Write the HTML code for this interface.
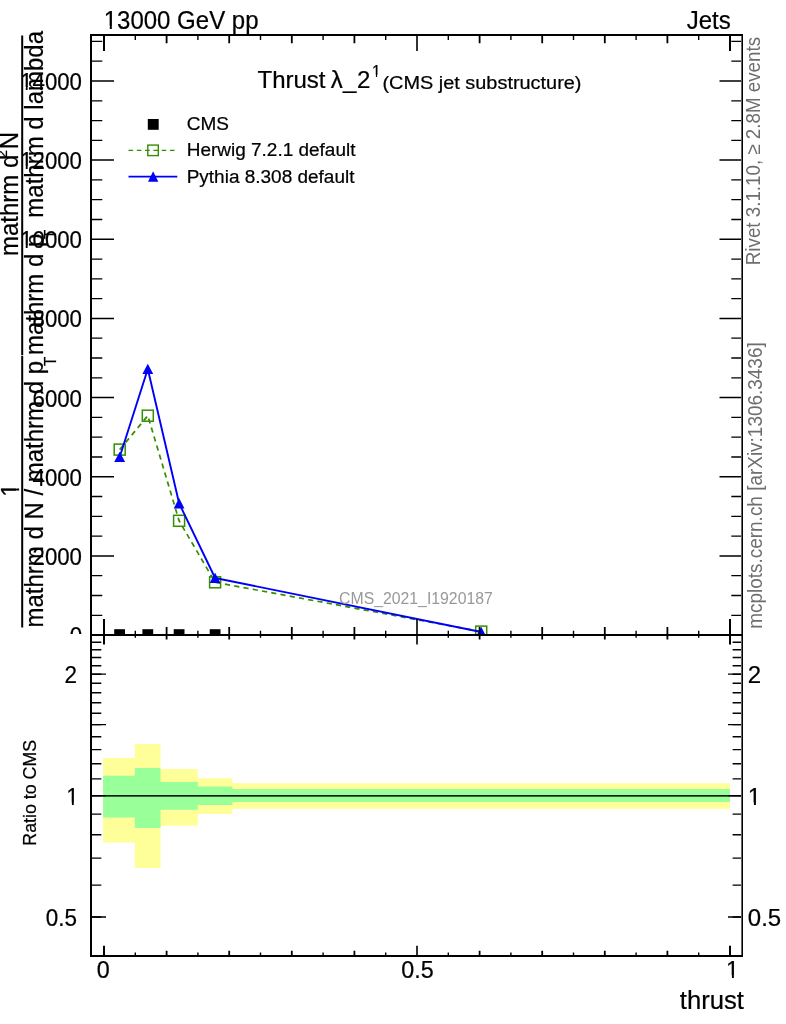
<!DOCTYPE html>
<html lang="en"><head><meta charset="utf-8"><title>Thrust plot</title>
<style>html,body{margin:0;padding:0;background:#fff}body{width:786px;height:1024px;overflow:hidden}svg{display:block}text{stroke:#000;stroke-width:.22px}text.ns{stroke:none}</style>
</head><body>
<svg width="786" height="1024" viewBox="0 0 786 1024" font-family='"Liberation Sans", sans-serif'>
<rect x="0" y="0" width="786" height="1024" fill="#ffffff"/>
<g fill="#000" font-size="25.2px">
<clipPath id="nf1"><path d="M-2000 -2000H2000V2000H-2000Z M-6.09 -2.88H-0.62V3H-6.09Z M1.51 -2.88H6.78V3H1.51Z" clip-rule="evenodd"/></clipPath>
<text transform="translate(18.9 490) rotate(-90) scale(0.9524 1)" text-anchor="middle" clip-path="url(#nf1)">1</text>
<text transform="translate(43.3 627.5) rotate(-90) scale(0.9524 1)">mathrm d N / mathrm d p<tspan font-size="16px" dy="12.8" dx="-5.46">T</tspan></text>
<rect x="21.2" y="355.7" width="2" height="271.8"/>
<text transform="translate(17.9 256) rotate(-90) scale(0.9524 1)">mathrm d<tspan font-size="15px" dy="-10.8" dx="-3.36">2</tspan><tspan dy="10.8" dx="0.73">N</tspan></text>
<text transform="translate(43.3 355) rotate(-90) scale(0.9524 1)">mathrm d p<tspan font-size="16px" dy="12.8" dx="-5.46">T</tspan><tspan dy="-12.8" dx="5.56"> mathrm d lambda</tspan></text>
<rect x="21.2" y="35.5" width="2" height="319.5"/>
</g>
<g fill="#000" font-size="24.4px" text-anchor="end">
<clipPath id="nf2"><path d="M-2000 -2000H2000V2000H-2000Z M-66.99 -2.82H-61.66V3H-66.99Z M-59.61 -2.82H-54.47V3H-59.61Z" clip-rule="evenodd"/></clipPath>
<text transform="translate(82 564.8) scale(0.912 1)" >2000</text>
<text transform="translate(82 485.6) scale(0.912 1)" >4000</text>
<text transform="translate(82 406.5) scale(0.912 1)" >6000</text>
<text transform="translate(82 327.3) scale(0.912 1)" >8000</text>
<text transform="translate(82 248.2) scale(0.912 1)" clip-path="url(#nf2)">10000</text>
<text transform="translate(82 169.0) scale(0.912 1)" clip-path="url(#nf2)">12000</text>
<text transform="translate(82 89.9) scale(0.912 1)" clip-path="url(#nf2)">14000</text>
</g>
<clipPath id="c0"><rect x="0" y="0" width="786" height="634"/></clipPath>
<g clip-path="url(#c0)"><text transform="translate(82 643.9) scale(0.912 1)" font-size="24.4px" text-anchor="end">0</text></g>
<clipPath id="cu"><rect x="92" y="36" width="649" height="598"/></clipPath>
<g clip-path="url(#cu)">
<polyline points="119.7,449.6 147.8,415.7 179.1,520.8 215.1,582.3 481.2,631.6" fill="none" stroke="#338f00" stroke-width="1.7" stroke-dasharray="5.2 4.2"/>
<rect x="114.2" y="444.1" width="11" height="11" fill="none" stroke="#338f00" stroke-width="1.5"/>
<rect x="142.3" y="410.2" width="11" height="11" fill="none" stroke="#338f00" stroke-width="1.5"/>
<rect x="173.6" y="515.3" width="11" height="11" fill="none" stroke="#338f00" stroke-width="1.5"/>
<rect x="209.6" y="576.8" width="11" height="11" fill="none" stroke="#338f00" stroke-width="1.5"/>
<rect x="475.7" y="626.1" width="11" height="11" fill="none" stroke="#338f00" stroke-width="1.5"/>
<polyline points="119.7,457.0 147.8,369.0 179.1,503.3 215.1,578.0 481.2,632.0" fill="none" stroke="#0000f8" stroke-width="1.9" stroke-linejoin="round"/>
<polygon points="114.2,462.1 125.1,462.1 119.7,451.8" fill="#0000f8"/>
<polygon points="142.4,374.1 153.2,374.1 147.8,363.8" fill="#0000f8"/>
<polygon points="173.7,508.4 184.5,508.4 179.1,498.1" fill="#0000f8"/>
<polygon points="209.7,583.1 220.5,583.1 215.1,572.8" fill="#0000f8"/>
<polygon points="475.8,637.1 486.6,637.1 481.2,626.8" fill="#0000f8"/>
<rect x="114.2" y="629.2" width="10.8" height="6" fill="#000"/>
<rect x="142.4" y="629.2" width="10.8" height="6" fill="#000"/>
<rect x="173.7" y="629.2" width="10.8" height="6" fill="#000"/>
<rect x="209.7" y="629.2" width="10.8" height="6" fill="#000"/>
</g>
<path d="M103.1 758.1H134.8V743.9H160.5V769.1H197.8V778.2H232.4V783.2H730.1V808.7H232.4V814.1H197.8V825.7H160.5V868.0H134.8V842.4H103.1Z" fill="#ffff99"/>
<path d="M103.1 775.8H134.8V767.9H160.5V782.1H197.8V786.4H232.4V789.1H730.1V801.9H232.4V804.9H197.8V809.8H160.5V828.1H134.8V817.5H103.1Z" fill="#99ff99"/>
<rect x="92" y="795.1" width="649" height="1.5" fill="#000"/>
<g stroke="#000" fill="none">
<path d="M92 615.3H102.3 M741 615.3H731.3" stroke-width="1.3"/>
<path d="M92 595.5H102.3 M741 595.5H731.3" stroke-width="1.3"/>
<path d="M92 575.7H102.3 M741 575.7H731.3" stroke-width="1.3"/>
<path d="M92 555.9H114 M741 555.9H719.5" stroke-width="1.5"/>
<path d="M92 536.1H102.3 M741 536.1H731.3" stroke-width="1.3"/>
<path d="M92 516.3H102.3 M741 516.3H731.3" stroke-width="1.3"/>
<path d="M92 496.5H102.3 M741 496.5H731.3" stroke-width="1.3"/>
<path d="M92 476.8H114 M741 476.8H719.5" stroke-width="1.5"/>
<path d="M92 457.0H102.3 M741 457.0H731.3" stroke-width="1.3"/>
<path d="M92 437.2H102.3 M741 437.2H731.3" stroke-width="1.3"/>
<path d="M92 417.4H102.3 M741 417.4H731.3" stroke-width="1.3"/>
<path d="M92 397.6H114 M741 397.6H719.5" stroke-width="1.5"/>
<path d="M92 377.8H102.3 M741 377.8H731.3" stroke-width="1.3"/>
<path d="M92 358.0H102.3 M741 358.0H731.3" stroke-width="1.3"/>
<path d="M92 338.2H102.3 M741 338.2H731.3" stroke-width="1.3"/>
<path d="M92 318.4H114 M741 318.4H719.5" stroke-width="1.5"/>
<path d="M92 298.7H102.3 M741 298.7H731.3" stroke-width="1.3"/>
<path d="M92 278.9H102.3 M741 278.9H731.3" stroke-width="1.3"/>
<path d="M92 259.1H102.3 M741 259.1H731.3" stroke-width="1.3"/>
<path d="M92 239.3H114 M741 239.3H719.5" stroke-width="1.5"/>
<path d="M92 219.5H102.3 M741 219.5H731.3" stroke-width="1.3"/>
<path d="M92 199.7H102.3 M741 199.7H731.3" stroke-width="1.3"/>
<path d="M92 179.9H102.3 M741 179.9H731.3" stroke-width="1.3"/>
<path d="M92 160.1H114 M741 160.1H719.5" stroke-width="1.5"/>
<path d="M92 140.4H102.3 M741 140.4H731.3" stroke-width="1.3"/>
<path d="M92 120.6H102.3 M741 120.6H731.3" stroke-width="1.3"/>
<path d="M92 100.8H102.3 M741 100.8H731.3" stroke-width="1.3"/>
<path d="M92 81.0H114 M741 81.0H719.5" stroke-width="1.5"/>
<path d="M92 61.2H102.3 M741 61.2H731.3" stroke-width="1.3"/>
<path d="M92 41.4H102.3 M741 41.4H731.3" stroke-width="1.3"/>
<path d="M104.0 36V51 M104.0 619V644.6 M104.0 945.6999999999999V955" stroke-width="2.0"/>
<path d="M135.3 36V40 M135.3 630.7V637.8 M135.3 952.5V955" stroke-width="1.4"/>
<path d="M166.6 36V43.3 M166.6 627V639.6 M166.6 950.6999999999999V955" stroke-width="1.8"/>
<path d="M197.9 36V40 M197.9 630.7V637.8 M197.9 952.5V955" stroke-width="1.4"/>
<path d="M229.2 36V43.3 M229.2 627V639.6 M229.2 950.6999999999999V955" stroke-width="1.8"/>
<path d="M260.5 36V40 M260.5 630.7V637.8 M260.5 952.5V955" stroke-width="1.4"/>
<path d="M291.8 36V43.3 M291.8 627V639.6 M291.8 950.6999999999999V955" stroke-width="1.8"/>
<path d="M323.1 36V40 M323.1 630.7V637.8 M323.1 952.5V955" stroke-width="1.4"/>
<path d="M354.4 36V43.3 M354.4 627V639.6 M354.4 950.6999999999999V955" stroke-width="1.8"/>
<path d="M385.7 36V40 M385.7 630.7V637.8 M385.7 952.5V955" stroke-width="1.4"/>
<path d="M417.0 36V51 M417.0 619V644.6 M417.0 945.6999999999999V955" stroke-width="1.6"/>
<path d="M448.3 36V40 M448.3 630.7V637.8 M448.3 952.5V955" stroke-width="1.4"/>
<path d="M479.6 36V43.3 M479.6 627V639.6 M479.6 950.6999999999999V955" stroke-width="1.8"/>
<path d="M510.9 36V40 M510.9 630.7V637.8 M510.9 952.5V955" stroke-width="1.4"/>
<path d="M542.2 36V43.3 M542.2 627V639.6 M542.2 950.6999999999999V955" stroke-width="1.8"/>
<path d="M573.5 36V40 M573.5 630.7V637.8 M573.5 952.5V955" stroke-width="1.4"/>
<path d="M604.8 36V43.3 M604.8 627V639.6 M604.8 950.6999999999999V955" stroke-width="1.8"/>
<path d="M636.1 36V40 M636.1 630.7V637.8 M636.1 952.5V955" stroke-width="1.4"/>
<path d="M667.4 36V43.3 M667.4 627V639.6 M667.4 950.6999999999999V955" stroke-width="1.8"/>
<path d="M698.7 36V40 M698.7 630.7V637.8 M698.7 952.5V955" stroke-width="1.4"/>
<path d="M730.0 36V51 M730.0 619V644.6 M730.0 945.6999999999999V955" stroke-width="2.0"/>
<path d="M92 917.0H106 M741 917.0H728" stroke-width="1.3"/>
<path d="M92 917.0H101.3 M741 917.0H732.6" stroke-width="1.4"/>
<path d="M92 885.1H101.3 M741 885.1H732.6" stroke-width="1.4"/>
<path d="M92 858.1H101.3 M741 858.1H732.6" stroke-width="1.4"/>
<path d="M92 834.7H101.3 M741 834.7H732.6" stroke-width="1.4"/>
<path d="M92 814.1H101.3 M741 814.1H732.6" stroke-width="1.4"/>
<path d="M92 795.6H106 M741 795.6H728" stroke-width="1.3"/>
<path d="M92 795.6H101.3 M741 795.6H732.6" stroke-width="1.4"/>
<path d="M92 778.9H101.3 M741 778.9H732.6" stroke-width="1.4"/>
<path d="M92 763.7H101.3 M741 763.7H732.6" stroke-width="1.4"/>
<path d="M92 749.6H101.3 M741 749.6H732.6" stroke-width="1.4"/>
<path d="M92 736.7H101.3 M741 736.7H732.6" stroke-width="1.4"/>
<path d="M92 724.6H106 M741 724.6H728" stroke-width="1.3"/>
<path d="M92 724.6H101.3 M741 724.6H732.6" stroke-width="1.4"/>
<path d="M92 713.3H101.3 M741 713.3H732.6" stroke-width="1.4"/>
<path d="M92 702.7H101.3 M741 702.7H732.6" stroke-width="1.4"/>
<path d="M92 692.7H101.3 M741 692.7H732.6" stroke-width="1.4"/>
<path d="M92 683.2H101.3 M741 683.2H732.6" stroke-width="1.4"/>
<path d="M92 674.2H106 M741 674.2H728" stroke-width="1.3"/>
<path d="M92 674.2H101.3 M741 674.2H732.6" stroke-width="1.4"/>
<path d="M92 665.7H101.3 M741 665.7H732.6" stroke-width="1.4"/>
<path d="M92 657.5H101.3 M741 657.5H732.6" stroke-width="1.4"/>
<path d="M92 649.7H101.3 M741 649.7H732.6" stroke-width="1.4"/>
<path d="M92 642.3H101.3 M741 642.3H732.6" stroke-width="1.4"/>
</g>
<g fill="#000">
<rect x="90" y="34" width="653" height="2"/>
<rect x="90" y="634" width="653" height="2"/>
<rect x="90" y="955" width="653" height="2"/>
<rect x="90" y="34" width="2" height="923"/>
<rect x="741.4" y="34" width="1.6" height="923"/>
</g>
<g fill="#000" font-size="23.3px">
<text transform="translate(76.9 682.8) scale(0.935 1)" font-size="24px" text-anchor="end" >2</text>
<text transform="translate(747.8 682.8)" font-size="24px" >2</text>
<clipPath id="nf3"><path d="M-2000 -2000H2000V2000H-2000Z M-12.52 -2.79H-7.26V3H-12.52Z M-5.24 -2.79H-0.17V3H-5.24Z" clip-rule="evenodd"/></clipPath>
<clipPath id="nf4"><path d="M-2000 -2000H2000V2000H-2000Z M0.83 -2.79H6.09V3H0.83Z M8.11 -2.79H13.18V3H8.11Z" clip-rule="evenodd"/></clipPath>
<text transform="translate(78.7 805.2) scale(0.935 1)" font-size="24px" text-anchor="end" clip-path="url(#nf3)">1</text>
<text transform="translate(747.8 805.2)" font-size="24px" clip-path="url(#nf4)">1</text>
<text transform="translate(76.9 925.6) scale(0.935 1)" font-size="24px" text-anchor="end" >0.5</text>
<text transform="translate(747.8 925.6)" font-size="24px" >0.5</text>
<text transform="translate(103.3 978.1)" text-anchor="middle" >0</text>
<text transform="translate(417.5 978.1)" text-anchor="middle" >0.5</text>
<clipPath id="nf5"><path d="M-2000 -2000H2000V2000H-2000Z M-5.70 -2.74H-0.57V3H-5.70Z M1.39 -2.74H6.34V3H1.39Z" clip-rule="evenodd"/></clipPath>
<text transform="translate(732.5 978.1)" text-anchor="middle" clip-path="url(#nf5)">1</text>
</g>
<text transform="translate(744 1008.8) scale(0.99 1)" font-size="25.9px" text-anchor="end">thrust</text>
<text transform="translate(36.4 792.8) rotate(-90)" font-size="17.8px" text-anchor="middle">Ratio to CMS</text>
<clipPath id="nf6"><path d="M-2000 -2000H2000V2000H-2000Z M0.91 -2.88H6.36V3H0.91Z M8.48 -2.88H13.73V3H8.48Z" clip-rule="evenodd"/></clipPath>
<text transform="translate(103.7 28.8) scale(0.957 1)" font-size="25.1px" clip-path="url(#nf6)">13000 GeV pp</text>
<text transform="translate(730.8 28.9) scale(0.957 1)" font-size="25.1px" text-anchor="end">Jets</text>
<text x="257.5" y="88.3" font-size="24px">Thrust <tspan dx="-1.5">λ</tspan><tspan dx="0.3">_</tspan><tspan dx="0.6">2</tspan></text>
<clipPath id="nf7"><path d="M-2000 -2000H2000V2000H-2000Z M0.19 -2.17H3.97V3H0.19Z M5.25 -2.17H8.91V3H5.25Z" clip-rule="evenodd"/></clipPath>
<text transform="translate(371.9 77)" font-size="15.6px" clip-path="url(#nf7)">1</text>
<text transform="translate(382.4 88.6) scale(1.083 1)" font-size="18.4px">(CMS jet substructure)</text>
<rect x="147.8" y="119" width="10.9" height="10.8" fill="#000"/>
<path d="M128.5 150.3H177.3" stroke="#338f00" stroke-width="1.35" stroke-dasharray="4.6 3.7" fill="none"/>
<rect x="147.8" y="145.1" width="10.5" height="10.5" fill="none" stroke="#338f00" stroke-width="1.4"/>
<path d="M128.5 176.6H177.3" stroke="#0000f8" stroke-width="1.6" fill="none"/>
<polygon points="148,181.7 158.3,181.7 153.15,171.2" fill="#0000f8"/>
<g font-size="19.1px" fill="#000">
<text transform="translate(186.7 129.6) scale(0.994 1)">CMS</text>
<text transform="translate(186.7 156) scale(0.994 1)">Herwig 7.2.1 default</text>
<text transform="translate(186.7 183) scale(0.994 1)">Pythia 8.308 default</text>
</g>
<text x="339.1" y="603.8" font-size="15.8px" fill="#999999" class="ns">CMS_2021_I1920187</text>
<text transform="translate(760.4 265.2) rotate(-90) scale(0.934 1)" font-size="20.1px" fill="#6e6e6e" class="ns">Rivet 3.1.10, ≥ 2.8M events</text>
<text transform="translate(761.9 628.8) rotate(-90) scale(0.953 1)" font-size="19.9px" fill="#6e6e6e" class="ns">mcplots.cern.ch [arXiv:1306.3436]</text>
</svg>
</body></html>
